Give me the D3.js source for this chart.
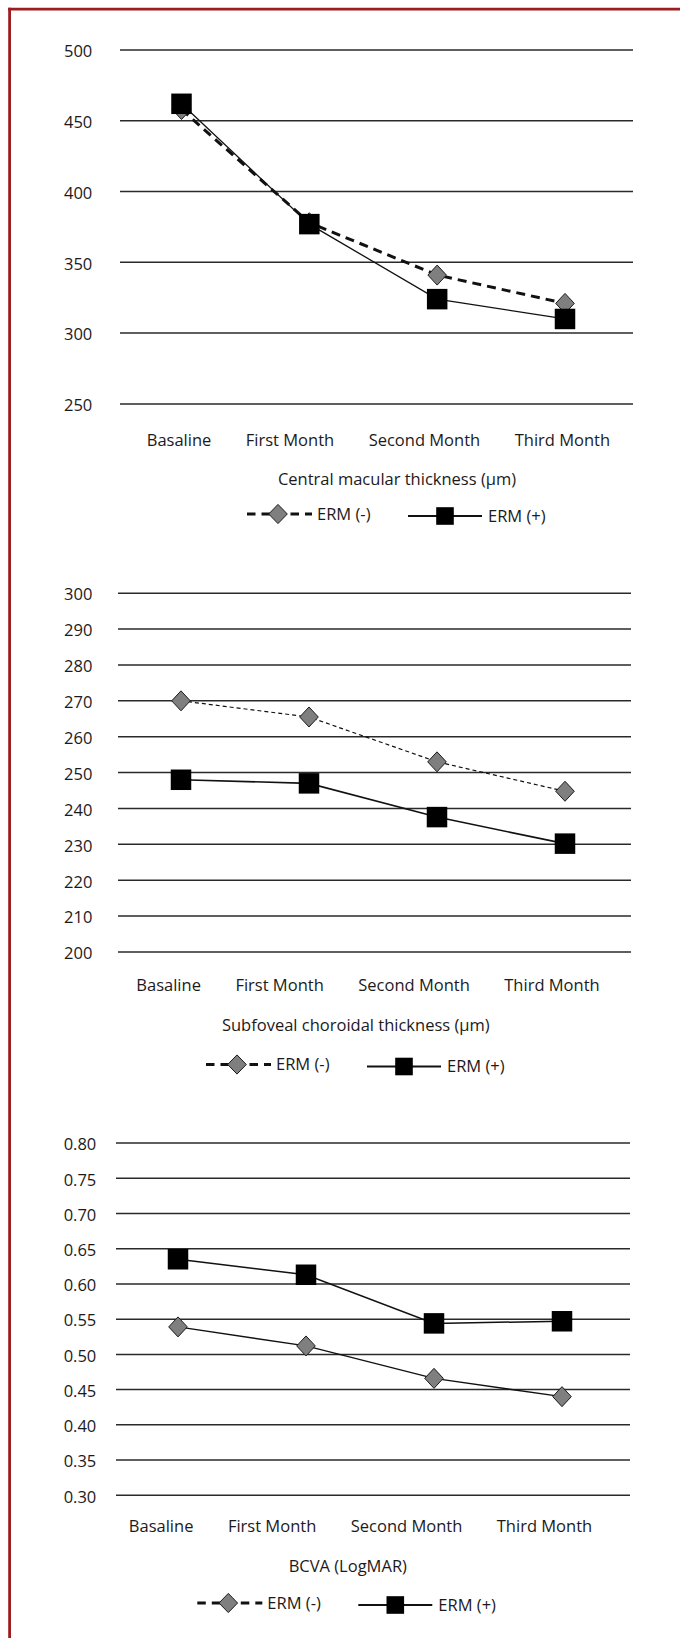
<!DOCTYPE html>
<html>
<head>
<meta charset="utf-8">
<script src="https://cdn.jsdelivr.net/npm/d3@7"></script>
<style>
  html, body { margin: 0; padding: 0; background: #fff; overflow: hidden; }
  svg { display: block; }
  text { font-family: "Open Sans", "Noto Sans", sans-serif; fill: #1c1a1b; }
</style>
</head>
<body>
<script>
// categories shared by all three panels
const categories = ["Basaline", "First Month", "Second Month", "Third Month"];
const seriesNames = ["ERM (-)", "ERM (+)"];

// Central macular thickness (um)
const cmtTicks = [250, 300, 350, 400, 450, 500];
const cmtNeg = [458, 378, 341, 321];
const cmtPos = [462, 377, 324, 310];

// Subfoveal choroidal thickness (um)
const sctTicks = [200, 210, 220, 230, 240, 250, 260, 270, 280, 290, 300];
const sctNeg = [270, 265.5, 253, 244.8];
const sctPos = [248, 247, 237.6, 230.2];

// BCVA (LogMAR)
const bcvaTicks = [0.30, 0.35, 0.40, 0.45, 0.50, 0.55, 0.60, 0.65, 0.70, 0.75, 0.80];
const bcvaNeg = [0.539, 0.512, 0.466, 0.440];
const bcvaPos = [0.635, 0.613, 0.544, 0.547];

var width = 680, height = 1638;

var svg = d3.select("body").append("svg")
    .attr("width", width)
    .attr("height", height);

// dark red frame: only the left and top edges are visible
svg.append("line")
    .attr("x1", 9.6).attr("x2", 9.6)
    .attr("y1", 7.8).attr("y2", height)
    .attr("stroke", "#9c1c20")
    .attr("stroke-width", 2.8);
svg.append("line")
    .attr("x1", 8.2).attr("x2", width)
    .attr("y1", 9.2).attr("y2", 9.2)
    .attr("stroke", "#9c1c20")
    .attr("stroke-width", 2.8);

// layout of each panel
var panels = [
    { neg: cmtNeg, pos: cmtPos, ticks: cmtTicks, fmt: d3.format("d"),
      yr: [403.9, 50], xr: [120, 633], pts: [181.5, 565], tickX: 92.3,
      catY: 446, catC: 378.4, title: "Central macular thickness (µm)",
      titleX: 397, titleY: 485, legX: 247, legY: 514,
      negW: 3, negDash: "9,6", posW: 1.3 },
    { neg: sctNeg, pos: sctPos, ticks: sctTicks, fmt: d3.format("d"),
      yr: [952, 593.2], xr: [118, 631], pts: [181, 565], tickX: 92.4,
      catY: 991, catC: 368, title: "Subfoveal choroidal thickness (µm)",
      titleX: 355.8, titleY: 1031, legX: 206, legY: 1064.5,
      negW: 1.2, negDash: "4,3", posW: 1.6 },
    { neg: bcvaNeg, pos: bcvaPos, ticks: bcvaTicks, fmt: d3.format(".2f"),
      yr: [1495.3, 1143], xr: [116, 630], pts: [178, 562], tickX: 96.3,
      catY: 1532, catC: 360.5, title: "BCVA (LogMAR)",
      titleX: 347.8, titleY: 1572, legX: 197.3, legY: 1603,
      negW: 1.4, negDash: null, posW: 1.5 }
];

var fontSize = 16.5;
var sq = 20.5;   // square marker side
var dw = 9.3, dh = 10;  // diamond half width / height

function diamond(cx, cy, w, h) {
    return "M" + cx + "," + (cy - h) + "L" + (cx + w) + "," + cy +
        "L" + cx + "," + (cy + h) + "L" + (cx - w) + "," + cy + "Z";
}

panels.forEach(function (p) {
    var g = svg.append("g");

    var y = d3.scaleLinear()
        .domain([p.ticks[0], p.ticks[p.ticks.length - 1]])
        .range(p.yr);
    var x = d3.scalePoint().domain(categories).range(p.pts);

    // gridlines
    g.selectAll("line.grid").data(p.ticks).enter()
        .append("line")
        .attr("class", "grid")
        .attr("x1", p.xr[0]).attr("x2", p.xr[1])
        .attr("y1", (d) => y(d)).attr("y2", (d) => y(d))
        .attr("stroke", "#2a2a2a")
        .attr("stroke-width", 1.5);

    // y tick labels
    g.selectAll("text.tick").data(p.ticks).enter()
        .append("text")
        .attr("class", "tick")
        .attr("x", p.tickX)
        .attr("y", (d) => y(d) + 1.5)
        .attr("dy", "0.35em")
        .attr("text-anchor", "end")
        .style("font-size", fontSize + "px")
        .text(p.fmt);

    // category labels, laid out in a row with equal gaps
    var cats = g.selectAll("text.cat").data(categories).enter()
        .append("text")
        .attr("class", "cat")
        .attr("y", p.catY)
        .style("font-size", fontSize + "px")
        .text((d) => d);
    var widths = [];
    cats.each(function () { widths.push(this.getComputedTextLength()); });
    var gap = 34.5;
    var total = d3.sum(widths) + gap * (widths.length - 1);
    var cx = p.catC - total / 2;
    cats.attr("x", function (d, i) {
        var v = cx;
        cx += widths[i] + gap;
        return v;
    });

    // axis title
    g.append("text")
        .attr("x", p.titleX)
        .attr("y", p.titleY)
        .attr("text-anchor", "middle")
        .style("font-size", fontSize + "px")
        .text(p.title);

    var line = d3.line()
        .x((d, i) => x(categories[i]))
        .y((d) => y(d));

    // series lines
    g.append("path")
        .datum(p.pos)
        .attr("d", line)
        .attr("fill", "none")
        .attr("stroke", "#111")
        .attr("stroke-width", p.posW);

    g.append("path")
        .datum(p.neg)
        .attr("d", line)
        .attr("fill", "none")
        .attr("stroke", "#111")
        .attr("stroke-width", p.negW)
        .attr("stroke-dasharray", p.negDash);

    // diamonds for ERM (-)
    g.selectAll("path.dia").data(p.neg).enter()
        .append("path")
        .attr("class", "dia")
        .attr("d", (d, i) => diamond(x(categories[i]), y(d), dw, dh))
        .attr("fill", "#7f7f7f")
        .attr("stroke", "#1a1a1a")
        .attr("stroke-width", 1);

    // squares for ERM (+)
    g.selectAll("rect.sq").data(p.pos).enter()
        .append("rect")
        .attr("class", "sq")
        .attr("x", (d, i) => x(categories[i]) - sq / 2)
        .attr("y", (d) => y(d) - sq / 2)
        .attr("width", sq).attr("height", sq)
        .attr("fill", "#000");

    // legend
    var lg = g.append("g").attr("transform", "translate(" + p.legX + "," + p.legY + ")");
    lg.append("line")
        .attr("x1", 0).attr("x2", 65)
        .attr("y1", 0).attr("y2", 0)
        .attr("stroke", "#111")
        .attr("stroke-width", 3)
        .attr("stroke-dasharray", "8.5,6");
    lg.append("path")
        .attr("d", diamond(31, 0, 9.3, 9.6))
        .attr("fill", "#7f7f7f")
        .attr("stroke", "#1a1a1a")
        .attr("stroke-width", 1);
    lg.append("text")
        .attr("x", 70).attr("y", 0)
        .attr("dy", "0.36em")
        .style("font-size", fontSize + "px")
        .text(seriesNames[0]);

    var lg2 = lg.append("g").attr("transform", "translate(161,2)");
    lg2.append("line")
        .attr("x1", 0).attr("x2", 74)
        .attr("y1", 0).attr("y2", 0)
        .attr("stroke", "#111")
        .attr("stroke-width", 2.2);
    lg2.append("rect")
        .attr("x", 37 - 8.8).attr("y", -8.8)
        .attr("width", 17.6).attr("height", 17.6)
        .attr("fill", "#000");
    lg2.append("text")
        .attr("x", 80).attr("y", 0)
        .attr("dy", "0.36em")
        .style("font-size", fontSize + "px")
        .text(seriesNames[1]);
});
</script>
</body>
</html>
